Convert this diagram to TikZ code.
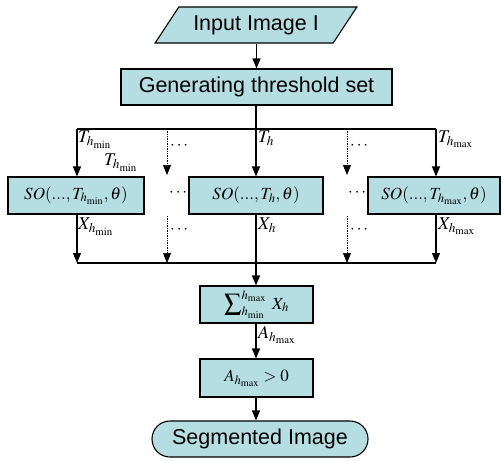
\documentclass[tikz,border=0pt]{standalone}
\usepackage{mathptmx}
\usepackage{fontspec}
\setmainfont{Liberation Sans}
\usetikzlibrary{shapes.geometric,arrows.meta}
\definecolor{boxfill}{RGB}{181,222,227}
\begin{document}
\begin{tikzpicture}[x=1pt,y=-1pt,
  every node/.style={inner sep=0pt},
  flow/.style={draw=black,line width=1.1pt},
  box/.style={draw=black,line width=1.1pt,fill=boxfill,rectangle,minimum height=37pt},
  para/.style={draw=black,line width=1.1pt,fill=boxfill,trapezium,trapezium left angle=45,trapezium right angle=135,trapezium stretches=true,minimum width=202pt,minimum height=36pt},
  term/.style={draw=black,line width=1.1pt,fill=boxfill,rectangle,rounded corners=18pt,minimum width=216pt,minimum height=36pt},
  arr/.style={flow,-{Triangle[width=8pt,length=10pt]}},
  dotarr/.style={line width=0.7pt,densely dotted,-{Triangle[width=8pt,length=10pt]}},
  lbl/.style={anchor=north west,font=\fontsize{18}{18}\selectfont},
  dots/.style={anchor=west,font=\fontsize{17}{17}\selectfont},
  big/.style={font=\fontsize{21.5}{21.5}\selectfont},
  mth/.style={font=\fontsize{17}{17}\selectfont}]
\useasboundingbox (0,0) rectangle (502,460);
% nodes
\node[para,big] (in) at (256,25) {Input Image I};
\node[box,big,minimum width=271pt,minimum height=36pt] (gen) at (256.5,87) {Generating threshold set};
\node[box,mth,minimum width=136pt] (so1) at (76,195.5) {$SO(...,T_{h_{\min}},\theta)$};
\node[box,mth,minimum width=134pt] (so2) at (256,195.5) {$SO(...,T_{h},\theta)$};
\node[box,mth,minimum width=132pt] (so3) at (434,195.5) {$SO(...,T_{h_{\max}},\theta)$};
\node[box,mth,minimum width=113pt] (sum) at (256.5,304.5) {$\displaystyle\sum\nolimits_{h_{\min}}^{h_{\max}}\; X_h$};
\node[box,mth,minimum width=113pt,minimum height=38pt] (pos) at (256.5,378) {$A_{h_{\max}}>0$};
\node[term,big] (out) at (260,439) {Segmented Image};
% bus coordinates
\coordinate (t1) at (77,129);
\coordinate (tc) at (256,129);
\coordinate (t3) at (436,129);
\coordinate (d1) at (167,129);
\coordinate (d2) at (347,129);
\coordinate (d1e) at (167,175);
\coordinate (d2e) at (347,175);
\coordinate (e1s) at (167,216);
\coordinate (e2s) at (347,216);
\coordinate (b1) at (77,263);
\coordinate (bc) at (256,263);
\coordinate (b3) at (436,263);
\coordinate (bd1) at (167,263);
\coordinate (bd2) at (347,263);
% connectors
\draw[arr] (in.south -| gen.north) -- (gen.north);
\draw[flow] (gen.south -| tc) -- (tc);
\draw[flow] (t1) -- (t3);
\draw[arr] (t1) -- (so1.north -| t1);
\draw[arr] (tc) -- (so2.north -| tc);
\draw[arr] (t3) -- (so3.north -| t3);
\draw[dotarr] (d1) -- (d1e);
\draw[dotarr] (d2) -- (d2e);
\draw[arr] (so1.south -| b1) -- (b1);
\draw[arr] (so3.south -| b3) -- (b3);
\draw[flow] (b1) -- (b3);
\draw[dotarr] (e1s) -- (bd1);
\draw[dotarr] (e2s) -- (bd2);
\draw[arr] (so2.south -| bc) -- (sum.north -| bc);
\draw[arr] (sum.south -| bc) -- (pos.north -| bc);
\draw[arr] (pos.south -| bc) -- (out.north -| bc);
% labels
\node[lbl] (lt1) at (78,131) {$T_{h_{\min}}$};
\node[lbl] (lt1b) at (104,154) {$T_{h_{\min}}$};
\node[lbl] (lt2) at (258,131) {$T_{h}$};
\node[lbl] (lt3) at (438,131) {$T_{h_{\max}}$};
\node[dots] (u1) at (170,146) {$\cdots$};
\node[dots] (u2) at (350,146) {$\cdots$};
\node[dots] (m1) at (169,193) {$\cdots$};
\node[dots] (m2) at (348,193) {$\cdots$};
\node[dots] (l1) at (170,230) {$\cdots$};
\node[dots] (l2) at (350,230) {$\cdots$};
\node[lbl] (lx1) at (78,218) {$X_{h_{\min}}$};
\node[lbl] (lx2) at (258,218) {$X_{h}$};
\node[lbl] (lx3) at (438,218) {$X_{h_{\max}}$};
\node[lbl] (la) at (258,326) {$A_{h_{\max}}$};
\end{tikzpicture}
\end{document}
